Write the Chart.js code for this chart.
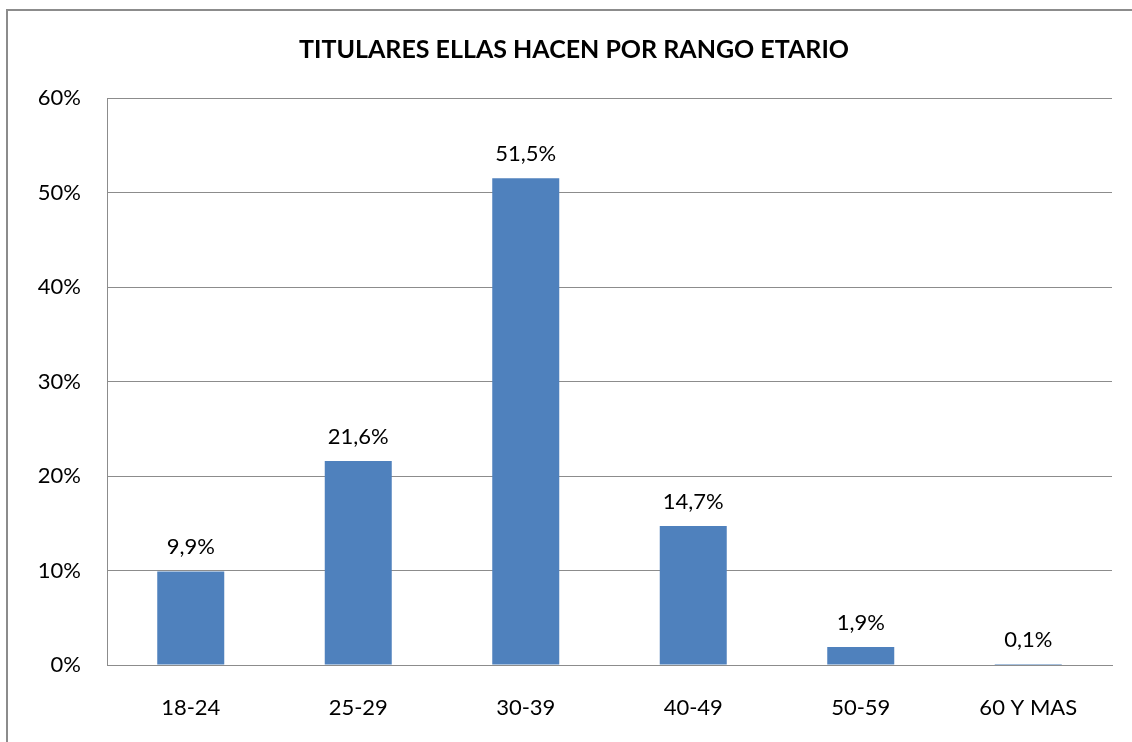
<!DOCTYPE html>
<html>
<head>
<meta charset="utf-8">
<script src="https://cdn.jsdelivr.net/npm/chart.js@4.4.0/dist/chart.umd.min.js"></script>
<style>
html,body{margin:0;padding:0;background:#fff;overflow:hidden;}
#frame{position:absolute;left:6px;top:9px;width:1300px;height:900px;border:2px solid #8c8c8c;box-sizing:border-box;}
#wrap{position:absolute;left:0;top:0;width:1132px;height:742px;}
</style>
</head>
<body>
<div id="frame"></div>
<div id="wrap"><canvas id="c"></canvas></div>
<script>
const chartTitle = 'TITULARES ELLAS HACEN POR RANGO ETARIO';
const categories = ['18-24', '25-29', '30-39', '40-49', '50-59', '60 Y MAS'];
const values = [9.9, 21.6, 51.5, 14.7, 1.9, 0.1];
const valueLabels = ['9,9%', '21,6%', '51,5%', '14,7%', '1,9%', '0,1%'];
const yTicks = [0, 10, 20, 30, 40, 50, 60];

const FONT = 'Lato, "Open Sans", sans-serif';

const dataLabelPlugin = {
  id: 'dataLabels',
  afterDatasetsDraw(chart) {
    const ctx = chart.ctx;
    const meta = chart.getDatasetMeta(0);
    ctx.save();
    ctx.font = '22px ' + FONT;
    ctx.fillStyle = '#000';
    ctx.textAlign = 'center';
    ctx.textBaseline = 'alphabetic';
    meta.data.forEach((bar, i) => {
      ctx.fillText(valueLabels[i], bar.x, bar.y - 17);
    });
    ctx.restore();
  }
};

new Chart(document.getElementById('c'), {
  type: 'bar',
  data: {
    labels: categories,
    datasets: [{
      data: values,
      backgroundColor: '#4F81BD',
      borderWidth: 0,
      categoryPercentage: 1.0,
      barPercentage: 0.4
    }]
  },
  plugins: [dataLabelPlugin],
  options: {
    responsive: true,
    maintainAspectRatio: false,
    animation: false,
    layout: { padding: { left: 36, right: 20, top: 35, bottom: 0 } },
    plugins: {
      legend: { display: false },
      tooltip: { enabled: false },
      title: {
        display: true,
        text: chartTitle,
        color: '#000',
        font: { family: FONT, size: 25, weight: 'bold' },
        padding: { top: 0, bottom: 33 }
      }
    },
    scales: {
      x: {
        grid: { display: false, drawTicks: false },
        border: { display: true, color: '#8c8c8c', width: 1 },
        ticks: { color: '#000', font: { family: FONT, size: 22 }, padding: 30, maxRotation: 0 },
        afterFit(axis) { axis.height = 77; }
      },
      y: {
        min: 0,
        max: 60,
        afterBuildTicks(axis) { axis.ticks = yTicks.map(v => ({ value: v })); },
        grid: { color: '#8c8c8c', drawTicks: false },
        border: { display: true, color: '#8c8c8c', width: 1 },
        ticks: { color: '#000', font: { family: FONT, size: 22 }, padding: 26, callback: v => v + '%' },
        afterFit(axis) { axis.width = 71; }
      }
    }
  }
});
</script>
</body>
</html>
